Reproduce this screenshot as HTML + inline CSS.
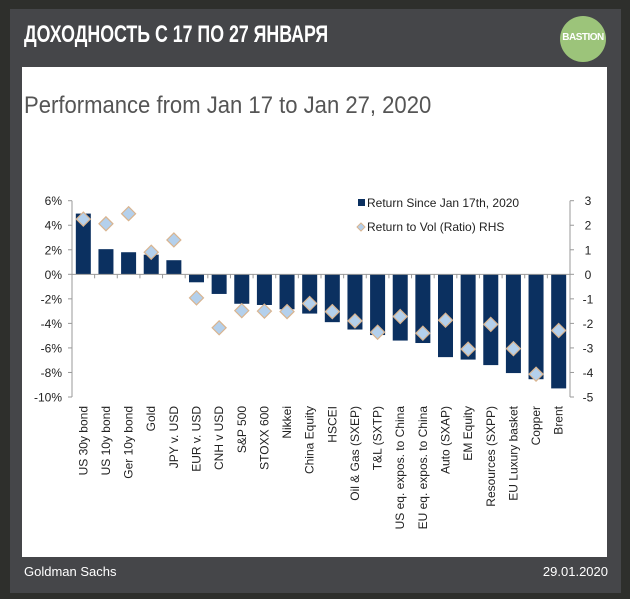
<!DOCTYPE html>
<html><head><meta charset="utf-8"><style>
body{margin:0;width:630px;height:599px;background:#2e2f2c;overflow:hidden;font-family:"Liberation Sans",sans-serif}
#panel{position:absolute;left:10px;top:9px;width:611px;height:584px;background:#454649}
#hdr{position:absolute;left:24px;top:21px;color:#fff;font-family:"Liberation Sans Narrow","Liberation Sans",sans-serif;font-weight:bold;font-size:24px;transform:scaleX(0.74);transform-origin:left;white-space:nowrap}
#logo{position:absolute;left:560px;top:16px;width:46px;height:46px;border-radius:50%;background:#9cc47a;color:#fff;font-size:10px;font-weight:bold;text-align:center;line-height:44px;letter-spacing:-0.5px}
#white{position:absolute;left:22px;top:67px;width:585px;height:490px;background:#fff}
#foot1{position:absolute;left:24px;top:564px;color:#fff;font-size:13px}
#foot2{position:absolute;right:22px;top:564px;color:#fff;font-size:13px}
svg{position:absolute;left:0;top:0}
</style></head><body>
<div id="panel"></div>
<div id="hdr">ДОХОДНОСТЬ С 17 ПО 27 ЯНВАРЯ</div>
<div id="logo">BASTION</div>
<div id="white"></div>
<div id="foot1">Goldman Sachs</div>
<div id="foot2">29.01.2020</div>
<svg id="chart" width="630" height="599"></svg>
<script>
const categories=["US 30y bond","US 10y bond","Ger 10y bond","Gold","JPY v. USD","EUR v. USD","CNH v USD","S&P 500","STOXX 600","Nikkei","China Equity","HSCEI","Oil & Gas (SXEP)","T&L (SXTP)","US eq. expos. to China","EU eq. expos. to China","Auto (SXAP)","EM Equity","Resources (SXPP)","EU Luxury basket","Copper","Brent"];
const returns=[4.95,2.05,1.8,1.6,1.15,-0.65,-1.6,-2.4,-2.5,-2.85,-3.2,-3.9,-4.5,-4.95,-5.4,-5.6,-6.75,-6.95,-7.4,-8.05,-8.55,-9.3];
const ratios=[2.25,2.06,2.47,0.9,1.4,-0.96,-2.18,-1.48,-1.5,-1.52,-1.19,-1.52,-1.9,-2.36,-1.72,-2.4,-1.87,-3.05,-2.04,-3.03,-4.07,-2.29];
const leftTicks=[6,4,2,0,-2,-4,-6,-8,-10];
const rightTicks=[3,2,1,0,-1,-2,-3,-4,-5];
const NS="http://www.w3.org/2000/svg",svg=document.getElementById('chart');
const X0=72,X1=570,Y0=200.7,Y1=397;
const yL=v=>Y0+(6-v)*(Y1-Y0)/16;
const yR=v=>Y0+(3-v)*(Y1-Y0)/8;
const step=(X1-X0)/categories.length;
const xC=i=>X0+step*(i+0.5);
function mk(t,a,txt){const e=document.createElementNS(NS,t);for(const k in a)e.setAttribute(k,a[k]);if(txt!=null)e.textContent=txt;svg.appendChild(e);return e;}
let e=mk('text',{x:24,y:113,'font-size':24,fill:'#555',transform:'translate(24,0) scale(0.92,1) translate(-24,0)'},'Performance from Jan 17 to Jan 27, 2020');


e=mk('line',{x1:X0,y1:Y0,x2:X0,y2:Y1,stroke:'#999'});


e=mk('line',{x1:X1,y1:Y0,x2:X1,y2:Y1,stroke:'#999'});


leftTicks.forEach(v=>{const y=yL(v);mk('line',{x1:X0-4,y1:y,x2:X0,y2:y,stroke:'#999'});
e=mk('text',{x:X0-10,y:y+4.5,'text-anchor':'end','font-size':12,fill:'#222'},v+'%');

});
rightTicks.forEach(v=>{const y=yR(v);mk('line',{x1:X1,y1:y,x2:X1+4,y2:y,stroke:'#999'});
e=mk('text',{x:X1+18,y:y+4.5,'text-anchor':'middle','font-size':12,fill:'#222'},String(v));

});
returns.forEach((v,i)=>{const y0=yL(0),y=yL(v);
e=mk('rect',{x:xC(i)-7.5,y:Math.min(y,y0),width:15,height:Math.abs(y-y0),fill:'#0b3060'});

});
mk('line',{x1:X0,y1:yL(0),x2:X1,y2:yL(0),stroke:'#999'});
for(let i=0;i<=categories.length;i++){mk('line',{x1:X0+step*i,y1:yL(0),x2:X0+step*i,y2:yL(0)+4,stroke:'#999'});}
ratios.forEach((v,i)=>{const x=xC(i),y=yR(v);
e=mk('polygon',{points:`${x},${y-7} ${x+7},${y} ${x},${y+7} ${x-7},${y}`,fill:'#b4d0ec',stroke:'#d9b48f','stroke-width':1.2});

});
categories.forEach((c,i)=>{e=mk('text',{transform:`translate(${xC(i)+4},406) rotate(-90)`,'text-anchor':'end','font-size':12,fill:'#222'},c);

});
e=mk('rect',{x:358,y:199,width:7,height:7,fill:'#0b3060'});


e=mk('text',{x:367,y:207,'font-size':12,fill:'#222'},'Return Since Jan 17th, 2020');


e=mk('polygon',{points:'361,223 365,227 361,231 357,227',fill:'#b4d0ec',stroke:'#d9b48f'});


e=mk('text',{x:367,y:231,'font-size':12,fill:'#222'},'Return to Vol (Ratio) RHS');


</script>
</body></html>
